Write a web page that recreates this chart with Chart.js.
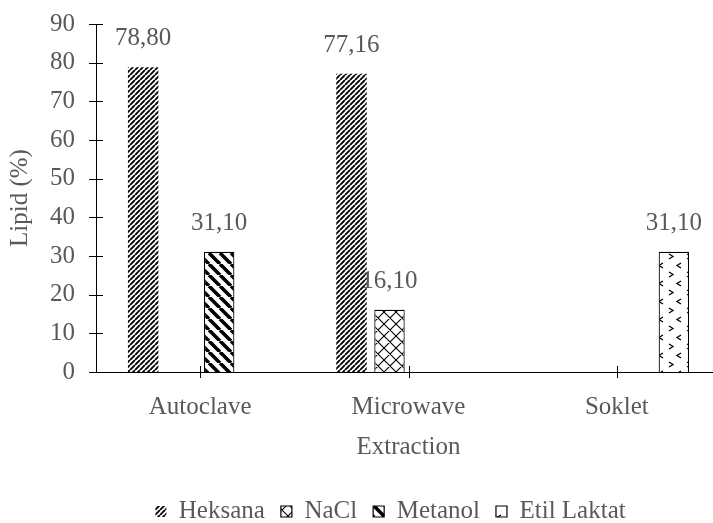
<!DOCTYPE html>
<html>
<head>
<meta charset="utf-8">
<script src="https://cdn.jsdelivr.net/npm/chart.js@4.4.1/dist/chart.umd.min.js"></script>
<style>
  html, body { margin: 0; padding: 0; overflow: hidden; background: #fff; }
</style>
</head>
<body>
<canvas id="chart1" width="721" height="523"></canvas>
<script>
// dados
const labelsX = ['Autoclave', 'Microwave', 'Soklet']
const heksana = [78.80, 77.16, null]
const nacl = [null, 16.10, null]
const metanol = [31.10, null, null]
const etilLaktat = [null, null, 31.10]
const yMin = 0
const yMax = 90
const yStep = 10

const cinza = '#595959'
const fonte = '"Liberation Serif", "Times New Roman", serif'

Chart.defaults.font.family = fonte
Chart.defaults.font.size = 25
Chart.defaults.color = cinza

function padrao(tipo) {
  const c = document.createElement('canvas')
  const g = c.getContext('2d')
  g.strokeStyle = '#000'
  if (tipo == 'heksana') {
    c.width = 5; c.height = 5
    g.fillStyle = '#fff'; g.fillRect(0, 0, 5, 5)
    g.lineWidth = 1.9
    g.beginPath()
    for (let k = -1; k <= 1; k++) { g.moveTo(k * 5, 5); g.lineTo(k * 5 + 5, 0) }
    g.stroke()
  } else if (tipo == 'metanol') {
    c.width = 11; c.height = 11
    g.fillStyle = '#fff'; g.fillRect(0, 0, 11, 11)
    g.lineWidth = 3.6
    g.beginPath()
    for (let k = -1; k <= 1; k++) { g.moveTo(k * 11, 0); g.lineTo(k * 11 + 11, 11) }
    g.stroke()
  } else if (tipo == 'nacl') {
    c.width = 12; c.height = 12
    g.fillStyle = '#fff'; g.fillRect(0, 0, 12, 12)
    g.lineWidth = 1.1
    g.beginPath()
    for (let k = -1; k <= 1; k++) {
      g.moveTo(k * 12, 0); g.lineTo(k * 12 + 12, 12)
      g.moveTo(k * 12, 12); g.lineTo(k * 12 + 12, 0)
    }
    g.stroke()
  } else {
    c.width = 18; c.height = 18
    g.fillStyle = '#fff'; g.fillRect(0, 0, 18, 18)
    g.lineWidth = 1.3
    g.beginPath()
    g.moveTo(3, 2); g.lineTo(7, 4.5); g.lineTo(3, 7)
    g.moveTo(15, 11); g.lineTo(11, 13.5); g.lineTo(15, 16)
    g.stroke()
  }
  return g.createPattern(c, 'repeat')
}

// rotulos de valor acima das barras
const rotulos = {
  id: 'rotulos',
  afterDatasetsDraw(chart) {
    const ctx = chart.ctx
    ctx.save()
    ctx.font = '25px ' + fonte
    ctx.fillStyle = cinza
    ctx.textAlign = 'center'
    ctx.textBaseline = 'alphabetic'
    chart.data.datasets.forEach((ds, i) => {
      chart.getDatasetMeta(i).data.forEach((bar, j) => {
        const v = ds.data[j]
        if (v == null) return
        ctx.fillText(v.toFixed(2).replace('.', ','), bar.x, bar.y - 22)
      })
    })
    ctx.restore()
  }
}

// tracinhos que cruzam os eixos
const tracos = {
  id: 'tracos',
  afterDraw(chart) {
    const x = chart.scales.x
    const y = chart.scales.y
    const ctx = chart.ctx
    ctx.save()
    ctx.strokeStyle = '#000'
    ctx.lineWidth = 1
    ctx.beginPath()
    y.ticks.forEach((t, i) => {
      const py = Math.round(y.getPixelForTick(i)) + 0.5
      ctx.moveTo(x.left - 7, py); ctx.lineTo(x.left + 7, py)
    })
    x.ticks.forEach((t, i) => {
      const px = Math.round(x.getPixelForTick(i)) + 0.5
      ctx.moveTo(px, y.bottom - 6); ctx.lineTo(px, y.bottom + 6)
    })
    ctx.stroke()
    ctx.restore()
  }
}

// empurra a legenda para a direita e para baixo
const moveLegenda = {
  id: 'moveLegenda',
  afterLayout(chart) {
    chart.legend.left += 30
    chart.legend.right += 30
    chart.legend.top += 21
    chart.legend.bottom += 21
  }
}

new Chart(document.getElementById('chart1').getContext('2d'), {
  type: 'bar',
  data: {
    labels: labelsX,
    datasets: [{
      label: 'Heksana',
      data: heksana,
      backgroundColor: padrao('heksana'),
      borderWidth: 0
    }, {
      label: 'NaCl',
      data: nacl,
      backgroundColor: padrao('nacl'),
      borderColor: '#000',
      borderWidth: 1.2
    }, {
      label: 'Metanol',
      data: metanol,
      backgroundColor: padrao('metanol'),
      borderColor: '#000',
      borderWidth: 1.2
    }, {
      label: 'Etil Laktat',
      data: etilLaktat,
      backgroundColor: padrao('etil'),
      borderColor: '#000',
      borderWidth: 1.2
    }]
  },
  options: {
    responsive: false,
    animation: false,
    barPercentage: 0.8,
    categoryPercentage: 0.73,
    layout: { padding: { top: 24, left: 0, right: 0, bottom: 10 } },
    plugins: {
      tooltip: { enabled: false },
      legend: {
        position: 'bottom',
        labels: { boxWidth: 11, boxHeight: 11, padding: 16, color: cinza, font: { size: 25 } }
      }
    },
    scales: {
      x: {
        grid: { display: false, tickLength: 6 },
        border: { display: true, color: '#000', width: 1 },
        ticks: { padding: 14, color: cinza, maxRotation: 0 },
        title: { display: true, text: 'Extraction', color: cinza, padding: { top: 4, bottom: 0 } },
        afterFit(scale) { scale.height = 90 }
      },
      y: {
        min: yMin,
        max: yMax,
        grid: { display: false, tickLength: 7 },
        border: { display: true, color: '#000', width: 1 },
        ticks: { stepSize: yStep, padding: 14, color: cinza },
        title: { display: true, text: 'Lipid (%)', color: cinza, padding: { top: 5, bottom: 0 } },
        afterFit(scale) {
          scale.width = 96
          scale.paddingTop = 0
          scale.paddingBottom = 0
        }
      }
    }
  },
  plugins: [rotulos, tracos, moveLegenda]
})
</script>
</body>
</html>
